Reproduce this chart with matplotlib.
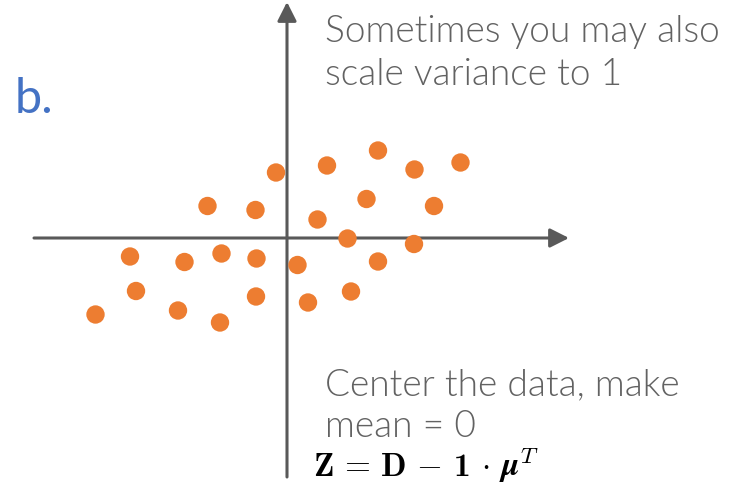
import os
import matplotlib
matplotlib.use("Agg")
import matplotlib.pyplot as plt
from matplotlib import font_manager

# Centered sample points (origin at the mean)
x_vals = [-0.22, 0.80, 1.82, 2.55, 3.47, -1.59, -0.63, 0.61, 1.59, 2.94,
          1.21, 2.54, -3.14, -2.05, -1.31, -0.61, 0.21, 1.82, -3.02, -0.62,
          1.28, -3.83, -2.18, -1.34, 0.42]
y_vals = [1.31, 1.45, 1.75, 1.37, 1.51, 0.64, 0.56, 0.37, 0.78, 0.64,
          -0.01, -0.12, -0.37, -0.48, -0.31, -0.41, -0.54, -0.47, -1.06, -1.17,
          -1.07, -1.53, -1.45, -1.69, -1.29]

panel_label = "b."
top_note = ["Sometimes you may also", "scale variance to 1"]
bottom_note = ["Center the data, make", "mean = 0"]
# formula drawn in three pieces so the "1" can use the bold CM face
formula_parts = [r"$\mathbf{Z} \,=\, \mathbf{D} \,-$", "1",
                 r"$\,\cdot\, \boldsymbol{\mu}^T$"]

plt.rcParams["mathtext.fontset"] = "cm"

# Prefer the Light cut of Lato for the notes
light_files = [f for f in font_manager.findSystemFonts()
               if "lato-light." in f.lower().replace("\\", "/").split("/")[-1]]
if light_files:
    note_font = font_manager.FontProperties(fname=light_files[0], size=26.7)
else:
    note_font = font_manager.FontProperties(family="Lato", size=26.7)

cmb10 = os.path.join(matplotlib.get_data_path(), "fonts", "ttf", "cmb10.ttf")
bold_one = font_manager.FontProperties(fname=cmb10, size=24)

fig = plt.figure(figsize=(7.30, 4.93), dpi=100)
ax = fig.add_axes([0, 0, 1, 1])
ax.set_xlim(-5.74, 8.86)
ax.set_ylim(-5.10, 4.76)
ax.axis("off")

axis_color = "#595959"
arrow_kw = dict(arrowstyle="-|>,head_length=11.5,head_width=5.8",
                mutation_scale=1, color=axis_color, lw=2.2,
                shrinkA=0, shrinkB=0)
# horizontal axis
ax.annotate("", xy=(5.64, 0), xytext=(-5.06, 0), arrowprops=arrow_kw)
# vertical axis
ax.annotate("", xy=(0, 4.72), xytext=(0, -4.78), arrowprops=arrow_kw)

ax.scatter(x_vals, y_vals, s=175, color="#ED7D31", edgecolors="none", zorder=3)

text_color = "#626262"
for line, base in zip(top_note, [42, 85]):
    fig.text(325 / 730, 1 - base / 493, line, ha="left", va="baseline",
             fontproperties=note_font, color=text_color)
for line, base in zip(bottom_note, [395, 437]):
    fig.text(325 / 730, 1 - base / 493, line, ha="left", va="baseline",
             fontproperties=note_font, color=text_color)
fig.text(15 / 730, 1 - 113 / 493, panel_label, ha="left", va="baseline",
         fontsize=35, family="Lato", color="#4472C4")

# formula, laid out piece by piece
renderer = fig.canvas.get_renderer()
fig_w = fig.bbox.width
gaps = [12, 0, 0]
x_pos = 313 / 730
y_pos = 1 - 476 / 493
for i, part in enumerate(formula_parts):
    if i == 1:
        t = fig.text(x_pos, y_pos, part, ha="left", va="baseline",
                     fontproperties=bold_one, color="black")
    else:
        t = fig.text(x_pos, y_pos, part, ha="left", va="baseline",
                     fontsize=24, color="black")
    ext = t.get_window_extent(renderer)
    x_pos = (ext.x1 + gaps[i]) / fig_w

fig.savefig("out.png", dpi=100, facecolor="white")
